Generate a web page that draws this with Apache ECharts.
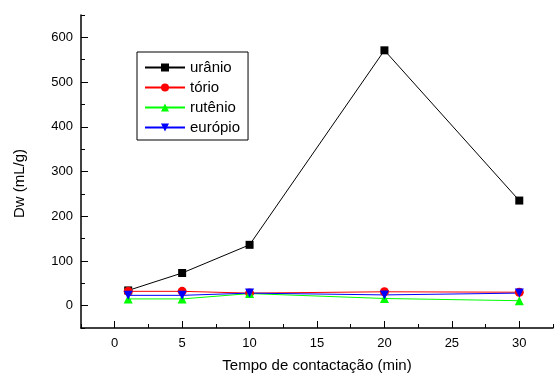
<!DOCTYPE html>
<html>
<head>
<meta charset="utf-8">
<script src="https://cdn.jsdelivr.net/npm/echarts@6/dist/echarts.min.js"></script>
<style>
  html, body { margin: 0; padding: 0; background: #fff; }
  #chart { width: 554px; height: 374px; }
</style>
</head>
<body>
<div id="chart"></div>
<script>
// tempo de contactação (min)
const tempos = [1, 5, 10, 20, 30]
const uranio = [34, 73, 136, 571, 235]
const torio = [32, 32, 28, 31, 30]
const rutenio = [15, 15, 27, 16, 11]
const europio = [23, 23, 28, 24, 28]

// marcas principais dos eixos
const xMajor = [0, 5, 10, 15, 20, 25, 30]
const yMajor = [0, 100, 200, 300, 400, 500, 600]

const pts = arr => tempos.map((t, i) => [t, arr[i]])

const FONT = 'Liberation Sans, Arial, sans-serif'

function serie(name, data, color, symbol, size, rotate) {
    return {
        name: name,
        type: 'line',
        data: pts(data),
        symbol: symbol,
        symbolSize: size,
        symbolRotate: rotate || 0,
        lineStyle: { color: color, width: 1 },
        itemStyle: { color: color },
        animation: false
    }
}

const chart = echarts.init(document.getElementById('chart'))

const tickStyle = { color: '#000', width: 1 }
const hiddenLine = { show: true, onZero: false, lineStyle: { color: 'rgba(0,0,0,0)' } }

const option = {
    backgroundColor: '#fff',
    grid: { left: 81, top: 15, right: 1, bottom: 46, containLabel: false, outerBoundsMode: 'none' },
    legend: {
        left: 137, top: 52,
        orient: 'vertical',
        itemWidth: 40, itemHeight: 10, itemGap: 5,
        padding: [8, 8, 5, 7],
        borderColor: '#000', borderWidth: 1,
        backgroundColor: '#fff',
        textStyle: { fontFamily: FONT, fontSize: 15, color: '#000' },
        data: ['urânio', 'tório', 'rutênio', 'európio']
    },
    xAxis: [{
        // eixo principal com rótulos
        type: 'value', min: -2.5, max: 32.5, interval: 2.5,
        name: 'Tempo de contactação (min)', nameLocation: 'middle', nameGap: 30,
        nameTextStyle: { fontFamily: FONT, fontSize: 15, color: '#000' },
        axisLine: { onZero: false, lineStyle: { color: '#000', width: 1.5 } },
        axisTick: { inside: true, length: 4, lineStyle: tickStyle },
        axisLabel: {
            fontFamily: FONT, fontSize: 13, color: '#000', margin: 9,
            formatter: v => (xMajor.indexOf(v) >= 0 ? String(v) : '')
        },
        splitLine: { show: false }
    }, {
        // marcas maiores
        type: 'value', min: -2.5, max: 32.5, interval: 2.5, position: 'bottom', offset: 0,
        axisLine: hiddenLine,
        axisTick: { show: true, inside: true, length: 7, lineStyle: tickStyle, customValues: xMajor },
        axisLabel: { show: false },
        splitLine: { show: false }
    }],
    yAxis: [{
        type: 'value', min: -50, max: 650, interval: 50,
        name: 'Dw (mL/g)', nameLocation: 'middle', nameGap: 54, nameRotate: 90,
        nameTextStyle: { fontFamily: FONT, fontSize: 15, color: '#000', padding: [0, 24, 0, 0] },
        axisLine: { onZero: false, lineStyle: { color: '#000', width: 1.5 } },
        axisTick: { inside: true, length: 4, lineStyle: tickStyle },
        axisLabel: {
            fontFamily: FONT, fontSize: 13, color: '#000', margin: 8,
            formatter: v => (yMajor.indexOf(v) >= 0 ? String(v) : '')
        },
        splitLine: { show: false }
    }, {
        type: 'value', min: -50, max: 650, interval: 50, position: 'left', offset: 0,
        axisLine: hiddenLine,
        axisTick: { show: true, inside: true, length: 7, lineStyle: tickStyle, customValues: yMajor },
        axisLabel: { show: false },
        splitLine: { show: false }
    }],
    series: [
        serie('urânio', uranio, '#000000', 'rect', 8),
        serie('tório', torio, '#ff0000', 'circle', 9),
        serie('rutênio', rutenio, '#00ff00', 'triangle', 9),
        serie('európio', europio, '#0000ff', 'triangle', 9, 180)
    ]
}

chart.setOption(option)
</script>
</body>
</html>
